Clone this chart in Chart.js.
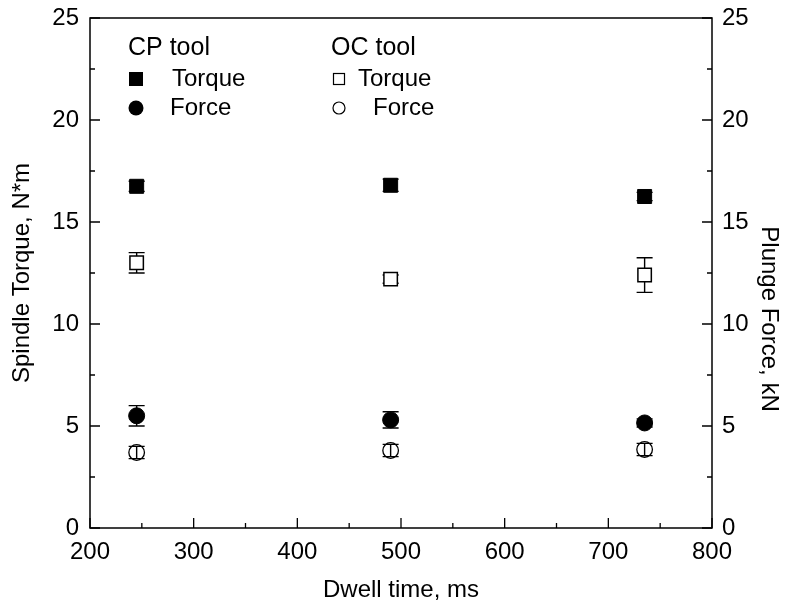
<!DOCTYPE html>
<html><head><meta charset="utf-8">
<script src="https://cdn.jsdelivr.net/npm/chart.js@4/dist/chart.umd.min.js"></script>
<style>html,body{margin:0;padding:0;background:#fff}#wrap{width:786px;height:613px}</style>
</head><body><div id="wrap"><canvas id="c" width="786" height="613"></canvas></div>
<script>
const dwellTimes = [245, 490, 735];
const cpTorque = [16.75, 16.8, 16.25];
const cpTorqueErr = [0.25, 0.3, 0.2];
const ocTorque = [13.0, 12.2, 12.4];
const ocTorqueErr = [0.5, 0.2, 0.85];
const cpForce = [5.5, 5.3, 5.15];
const cpForceErr = [0.5, 0.4, 0.2];
const ocForce = [3.7, 3.8, 3.85];
const ocForceErr = [0.3, 0.3, 0.3];
const xRange = [200, 800], xStep = 100;
const yRange = [0, 25], yStep = 5;
const legendHeaders = ['CP tool', 'OC tool'];
const legendLabels = ['Torque', 'Force'];
const rightTitle = 'Plunge Force, kN';

const FONT = '"Liberation Sans", Arial, sans-serif';
const pts = (ys) => dwellTimes.map((x, i) => ({x, y: ys[i]}));

const errPlugin = {
  id: 'errbars',
  beforeDatasetsDraw(chart) {
    const ctx = chart.ctx;
    chart.data.datasets.forEach((ds) => {
      const ys = chart.scales[ds.yAxisID];
      const xs = chart.scales.x;
      ctx.save(); ctx.strokeStyle = '#000'; ctx.lineWidth = 1.4;
      ds.data.forEach((p, i) => {
        const e = ds.err[i];
        const px = xs.getPixelForValue(p.x);
        const top = ys.getPixelForValue(p.y + e), bot = ys.getPixelForValue(p.y - e);
        ctx.beginPath();
        ctx.moveTo(px, top); ctx.lineTo(px, bot);
        ctx.moveTo(px - 8, top); ctx.lineTo(px + 8, top);
        ctx.moveTo(px - 8, bot); ctx.lineTo(px + 8, bot);
        ctx.stroke();
      });
      ctx.restore();
    });
  },
  afterDraw(chart) {
    const ctx = chart.ctx, a = chart.chartArea;
    const x = chart.scales.x, y = chart.scales.y, y2 = chart.scales.y2;
    ctx.save();
    ctx.strokeStyle = '#000'; ctx.lineWidth = 1.5;
    ctx.strokeRect(a.left, a.top, a.right - a.left, a.bottom - a.top);
    ctx.lineWidth = 1.3;
    ctx.beginPath();
    for (let v = xRange[0]; v <= xRange[1]; v += xStep / 2) {
      const px = x.getPixelForValue(v);
      const len = ((v - xRange[0]) % xStep === 0) ? 10 : 5;
      ctx.moveTo(px, a.bottom); ctx.lineTo(px, a.bottom - len);
    }
    for (let v = yRange[0]; v <= yRange[1]; v += yStep / 2) {
      const len = ((v - yRange[0]) % yStep === 0) ? 10 : 5;
      const py = y.getPixelForValue(v);
      ctx.moveTo(a.left, py); ctx.lineTo(a.left + len, py);
      const py2 = y2.getPixelForValue(v);
      ctx.moveTo(a.right, py2); ctx.lineTo(a.right - len, py2);
    }
    ctx.stroke();
    // legend
    ctx.fillStyle = '#000';
    ctx.textBaseline = 'middle';
    ctx.textAlign = 'left';
    ctx.font = '25px ' + FONT;
    ctx.fillText(legendHeaders[0], 128, 48);
    ctx.fillText(legendHeaders[1], 331, 48);
    ctx.font = '24px ' + FONT;
    ctx.fillText(legendLabels[0], 172, 79);
    ctx.fillText(legendLabels[1], 170, 108);
    ctx.fillText(legendLabels[0], 358, 79);
    ctx.fillText(legendLabels[1], 373, 108);
    ctx.fillRect(129, 72, 14, 14);
    ctx.beginPath(); ctx.arc(136, 108, 7.5, 0, Math.PI * 2); ctx.fill();
    ctx.lineWidth = 1.2;
    ctx.strokeRect(333.5, 73.5, 11, 11);
    ctx.beginPath(); ctx.arc(339, 108, 6, 0, Math.PI * 2); ctx.stroke();
    // right axis title
    ctx.translate(769, 319);
    ctx.rotate(Math.PI / 2);
    ctx.textAlign = 'center';
    ctx.fillText(rightTitle, 0, 0);
    ctx.restore();
  }
};

const noPadY = (w) => (s) => { s.width = w; s.paddingTop = 0; s.paddingBottom = 0; };

new Chart(document.getElementById('c'), {
  type: 'scatter',
  data: {
    datasets: [
      {label: 'CP Torque', data: pts(cpTorque), err: cpTorqueErr, yAxisID: 'y', pointStyle: 'rect', pointRadius: 9.9, backgroundColor: '#000', borderColor: '#000', borderWidth: 1},
      {label: 'OC Torque', data: pts(ocTorque), err: ocTorqueErr, yAxisID: 'y', pointStyle: 'rect', pointRadius: 9.5, backgroundColor: '#fff', borderColor: '#000', borderWidth: 1.5},
      {label: 'CP Force', data: pts(cpForce), err: cpForceErr, yAxisID: 'y2', pointStyle: 'circle', pointRadius: 8, backgroundColor: '#000', borderColor: '#000', borderWidth: 1},
      {label: 'OC Force', data: pts(ocForce), err: ocForceErr, yAxisID: 'y2', pointStyle: 'circle', pointRadius: 7.8, backgroundColor: 'rgba(0,0,0,0)', borderColor: '#000', borderWidth: 1.3}
    ]
  },
  options: {
    responsive: false, animation: false,
    layout: {padding: {top: 18, left: 0, right: 0, bottom: 0}},
    plugins: {legend: {display: false}, tooltip: {enabled: false}},
    scales: {
      x: {type: 'linear', min: xRange[0], max: xRange[1],
        ticks: {stepSize: xStep, color: '#000', font: {family: FONT, size: 24}, padding: 10},
        grid: {display: false, drawTicks: false}, border: {display: false},
        title: {display: true, text: 'Dwell time, ms', color: '#000', font: {family: FONT, size: 24}, padding: {top: 6, bottom: 8}},
        afterFit: (s) => { s.height = 85; s.paddingLeft = 0; s.paddingRight = 0; }
      },
      y: {type: 'linear', position: 'left', min: yRange[0], max: yRange[1],
        ticks: {stepSize: yStep, color: '#000', font: {family: FONT, size: 24}, padding: 11},
        grid: {display: false, drawTicks: false}, border: {display: false},
        title: {display: true, text: 'Spindle Torque, N*m', color: '#000', font: {family: FONT, size: 24}, padding: {top: 8, bottom: 0}},
        afterFit: noPadY(90)
      },
      y2: {type: 'linear', position: 'right', min: yRange[0], max: yRange[1],
        ticks: {stepSize: yStep, color: '#000', font: {family: FONT, size: 24}, padding: 10},
        grid: {display: false, drawTicks: false}, border: {display: false},
        title: {display: false},
        afterFit: noPadY(74)
      }
    }
  },
  plugins: [errPlugin]
});
</script></body></html>
